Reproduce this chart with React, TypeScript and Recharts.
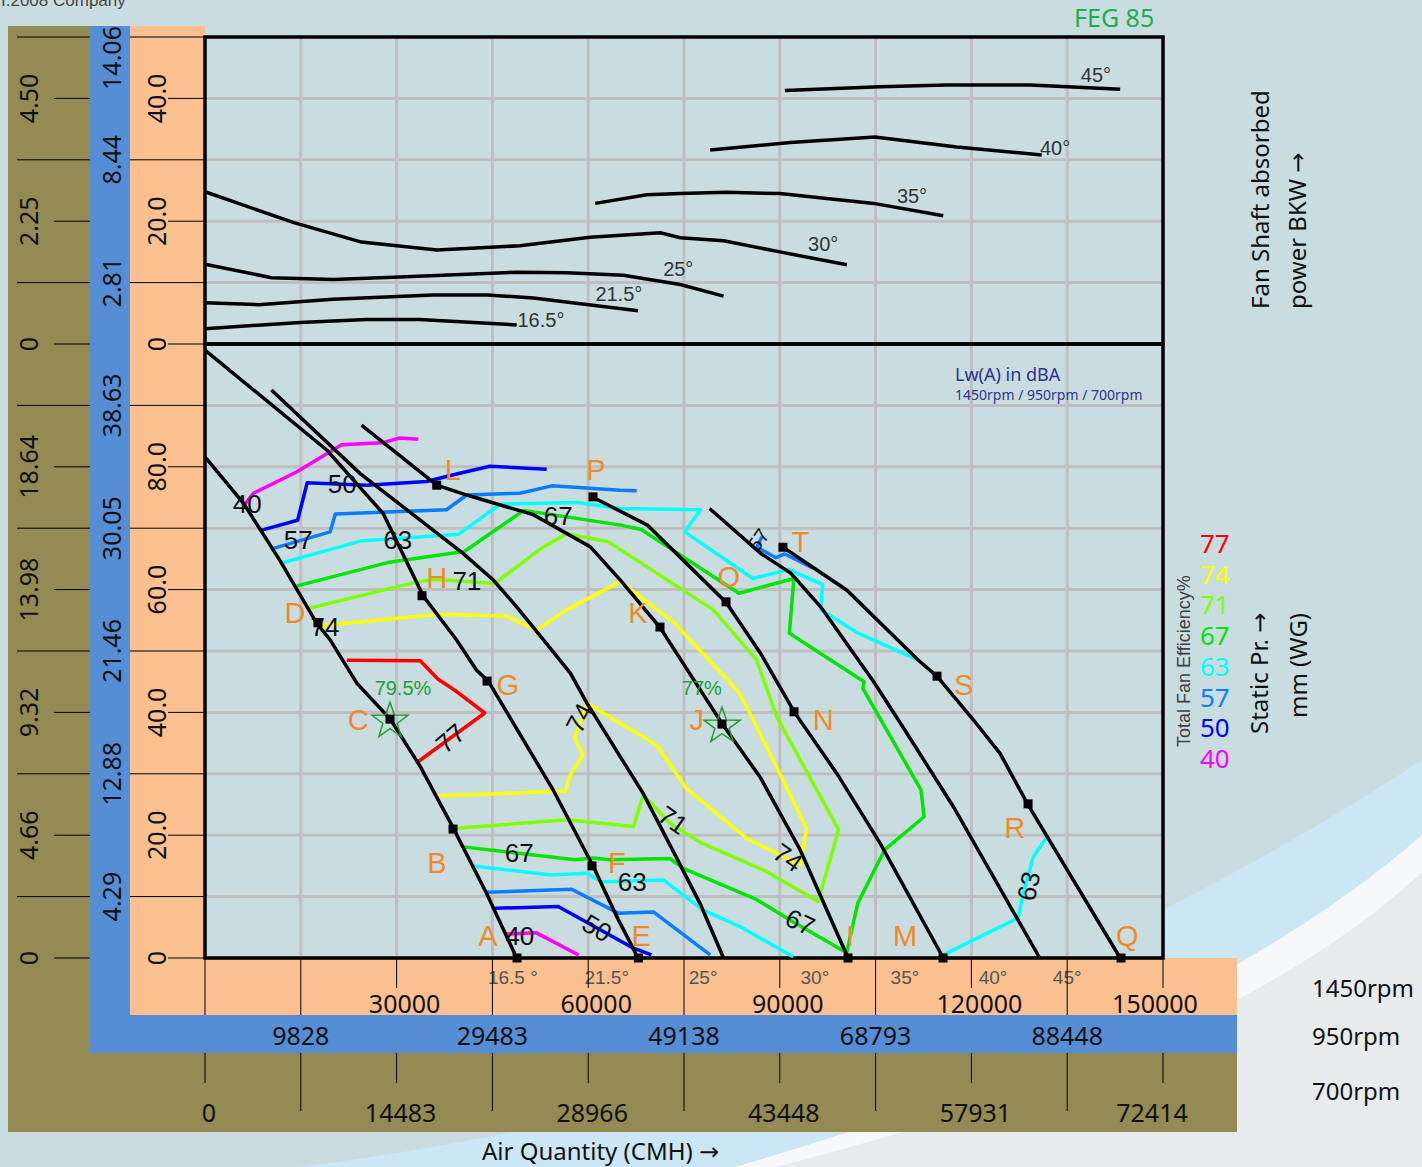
import React from "react";
import {
  ComposedChart,
  Line,
  Scatter,
  XAxis,
  YAxis,
  CartesianGrid,
  ReferenceArea,
} from "recharts";

type Row = [number, number];
type Pt = { q: number; p: number };

const CHART_W = 1422;
const CHART_H = 1167;

const SANS = "'Noto Sans', 'DejaVu Sans', sans-serif";
const ARIAL = "'Liberation Sans', Arial, sans-serif";

const BG = "#c9dde0";
const OLIVE = "#948a54";
const BLUE = "#558ed5";
const PEACH = "#fac090";
const ORANGE = "#ef8a2b";
const PCT_GREEN = "#1f9e3a";

// the power area sits on top of the pressure area: plotted value = 100 + BKW
const POWER_BASE = 100;

// ---- axes
const xTicks = [0, 15000, 30000, 45000, 60000, 75000, 90000, 105000, 120000, 135000, 150000];
const peachXLabels = ["", "", "30000", "", "60000", "", "90000", "", "120000", "", "150000"];
const blueXLabels = ["", "9828", "", "29483", "", "49138", "", "68793", "", "88448", ""];
const oliveXLabels = ["0", "", "14483", "", "28966", "", "43448", "", "57931", "", "72414"];

const angleTickQ = [48200, 62900, 78000, 95500, 109600, 123400, 135000];
const angleTickLabels = ["16.5 °", "21.5°", "25°", "30°", "35°", "40°", "45°"];

const yTicks = [0, 10, 20, 30, 40, 50, 60, 70, 80, 90, 100, 110, 120, 130, 140, 150];
const peachYLabels = ["0", "", "20.0", "", "40.0", "", "60.0", "", "80.0", "", "0", "", "20.0", "", "40.0", ""];
const blueYLabels = ["", "4.29", "", "12.88", "", "21.46", "", "30.05", "", "38.63", "", "2.81", "", "8.44", "", "14.06"];
const oliveYLabels = ["0", "", "4.66", "", "9.32", "", "13.98", "", "18.64", "", "0", "", "2.25", "", "4.50", ""];

// ---- fan shaft power (BKW) per blade angle
const power165: Row[] = [[0, 2.5], [14900, 3.5], [25300, 4.0], [33600, 4.0], [48800, 3.1]];
const power215: Row[] = [[0, 6.7], [8400, 6.4], [20000, 7.3], [35700, 8.0], [44200, 8.0], [51400, 7.5], [67800, 5.4]];
const power25: Row[] = [[0, 13.0], [10400, 10.8], [20100, 10.5], [30500, 10.9], [48800, 11.7], [56600, 11.6], [65500, 11.2], [74400, 9.7], [81200, 7.8]];
const power30: Row[] = [[0, 24.8], [13800, 19.8], [24500, 16.6], [36300, 15.3], [49300, 16.0], [60300, 17.4], [71300, 18.1], [74400, 17.3], [81200, 16.8], [90000, 15.0], [100500, 12.9]];
const power35: Row[] = [[61100, 22.9], [69200, 24.3], [74400, 24.5], [81700, 24.7], [90000, 24.5], [104700, 22.9], [115600, 20.9]];
const power40: Row[] = [[79100, 31.6], [91600, 32.8], [104900, 33.7], [117700, 32.1], [131000, 30.8]];
const power45: Row[] = [[90800, 41.3], [105700, 41.9], [116100, 42.2], [129200, 42.2], [143300, 41.5]];

const powerLabels = [
  { text: "16.5°", q: 52600, k: 3.9 },
  { text: "21.5°", q: 64800, k: 8.1 },
  { text: "25°", q: 74100, k: 12.2 },
  { text: "30°", q: 96800, k: 16.3 },
  { text: "35°", q: 110700, k: 24.1 },
  { text: "40°", q: 133100, k: 31.9 },
  { text: "45°", q: 139500, k: 43.8 },
];

// ---- static pressure (mm WG) per blade angle
const pressure165: Row[] = [[0, 81.6], [6000, 74.1], [11700, 64.8], [17500, 54.5], [19600, 51.8], [23800, 44.7], [29000, 38.9], [33700, 31.2], [38900, 21.1], [44100, 10.5], [48800, 0]];
const pressure215: Row[] = [[0, 99], [19100, 82.7], [27900, 72.4], [34200, 58.9], [39400, 51.8], [42500, 46.9], [44400, 45.0], [54500, 27.4], [60800, 14.9], [64500, 6.7], [67800, 0]];
const pressure25: Row[] = [[10400, 92.5], [24300, 78.9], [40400, 65.9], [45100, 61.6], [48800, 57.2], [53000, 51.8], [57200, 46.4], [59800, 41.5], [68600, 26.8], [73300, 17.4], [77500, 8.9], [81200, 0]];
const pressure30: Row[] = [[24500, 86.8], [36300, 77.0], [41000, 75.4], [51400, 72.2], [60300, 67.0], [65000, 61.6], [71200, 53.9], [81000, 38.1], [86900, 29.5], [93200, 17.6], [100700, 0]];
const pressure35: Row[] = [[60800, 75.0], [69300, 70.5], [81600, 57.9], [87000, 49.6], [92300, 40.0], [98900, 30.1], [105700, 18.7], [115600, 0]];
const pressure40: Row[] = [[79000, 73.2], [87000, 65.9], [91700, 62.7], [96400, 57.2], [104700, 45.0], [109900, 36.6], [117200, 24.6], [130700, 0]];
const pressure45: Row[] = [[90500, 66.9], [100500, 59.9], [111700, 48.5], [114600, 45.9], [120300, 38.8], [124500, 33.3], [128900, 24.9], [143300, 0]];

// ---- total fan efficiency contours (%)
const eff40a: Row[] = [[6000, 73.6], [7600, 75.7], [14400, 79.2], [21400, 83.6], [27700, 83.9], [30500, 84.7], [33400, 84.5]];
const eff40b: Row[] = [[47200, 3.9], [51900, 4.1], [58500, 0.5]];
const eff50a: Row[] = [[8600, 69.6], [14500, 71.3], [16000, 77.4], [25300, 77.0], [34700, 77.6], [38900, 78.7], [44600, 80.1], [53500, 79.6]];
const eff50b: Row[] = [[45400, 8.1], [55300, 8.4], [67100, 1.6], [69900, 0.5]];
const eff57a: Row[] = [[10300, 66.6], [19600, 69.4], [20400, 72.3], [37800, 73.0], [41000, 75.4], [49300, 75.7], [54300, 76.9], [65000, 76.2], [67600, 76.1]];
const eff57b: Row[] = [[87200, 68.6], [86400, 66.9], [89400, 65.2], [90800, 65.8], [95200, 63.5]];
const eff57c: Row[] = [[44100, 10.7], [57400, 11.2], [64700, 7.3], [70200, 7.5], [79100, 0.5]];
const eff63a: Row[] = [[11900, 64.3], [24300, 67.9], [39700, 69.0], [46200, 73.9], [58200, 74.2], [65000, 73.2], [77600, 73.0], [75100, 69.4], [85800, 61.8], [91400, 63.3], [96700, 60.8], [96400, 56.7], [102300, 52.9], [111700, 48.5]];
const eff63b: Row[] = [[42000, 15.0], [54300, 13.5], [59800, 13.8], [62100, 12.4], [71800, 12.7], [78000, 7.8], [83800, 5.1], [92100, 0.2]];
const eff63c: Row[] = [[115600, 0.5], [127300, 6.5], [128100, 10.5], [129700, 16.5], [132000, 20.0]];
const eff67a: Row[] = [[14400, 60.6], [28600, 64.4], [40600, 66.2], [49900, 72.9], [65100, 70.5], [68300, 69.8], [83600, 59.4], [92200, 61.8], [91500, 52.9], [103200, 45.0], [103000, 43.9], [112100, 27.4], [112600, 23.0], [106400, 17.6], [102200, 8.9], [100400, 0.5]];
const eff67b: Row[] = [[40400, 18.1], [57900, 16.0], [60800, 16.3], [63400, 16.0], [72800, 16.2], [74900, 14.6], [86400, 9.5], [91600, 6.2], [100200, 1.0]];
const eff71: Row[] = [[16400, 57.0], [32600, 61.1], [35700, 61.7], [45400, 61.0], [52500, 66.6], [56600, 69.1], [63100, 67.8], [67600, 64.8], [79600, 56.7], [86400, 48.5], [89500, 39.3], [99200, 20.9], [96000, 9.2], [87900, 14.1], [77800, 18.7], [72800, 21.9], [68600, 26.6], [67100, 21.4], [56600, 22.5], [38900, 21.1]];
const eff74: Row[] = [[18000, 54.1], [36500, 56.0], [47200, 55.7], [51900, 53.4], [56600, 56.7], [65000, 61.3], [73300, 54.8], [83500, 43.4], [85600, 39.3], [94200, 21.1], [93200, 15.2], [84800, 19.5], [75400, 27.6], [70700, 34.7], [59800, 41.5], [57900, 35.8], [59200, 33.1], [57200, 29.8], [56400, 27.1], [54500, 27.1], [36300, 26.4]];
const eff77: Row[] = [[22200, 48.5], [33700, 48.4], [36500, 45.4], [39400, 43.4], [43800, 39.9], [33400, 32.0]];

const effLevels = [77, 74, 71, 67, 63, 57, 50, 40];
const effColors: Record<number, string> = {
  77: "#ff0000",
  74: "#ffff00",
  71: "#80ff00",
  67: "#00e600",
  63: "#00ffff",
  57: "#0a7cff",
  50: "#0000ff",
  40: "#ff00ff",
};

// ---- duty points and annotations
const dutyPoints = [
  { id: "A", q: 48850, p: 0 }, { id: "B", q: 38830, p: 21.0 }, { id: "C", q: 28970, p: 38.9 }, { id: "D", q: 17690, p: 54.6 },
  { id: "E", q: 67850, p: 0 }, { id: "F", q: 60600, p: 15.0 }, { id: "G", q: 44160, p: 45.1 }, { id: "H", q: 33980, p: 59.0 },
  { id: "I", q: 100680, p: 0 }, { id: "J", q: 80950, p: 38.1 }, { id: "K", q: 71240, p: 53.9 }, { id: "L", q: 36280, p: 77.0 },
  { id: "M", q: 115560, p: 0 }, { id: "N", q: 92230, p: 40.1 }, { id: "O", q: 81580, p: 58.0 }, { id: "P", q: 60750, p: 75.1 },
  { id: "Q", q: 143430, p: 0 }, { id: "R", q: 128870, p: 25.1 }, { id: "S", q: 114620, p: 45.9 }, { id: "T", q: 90500, p: 66.9 },
];

const pointLetters = [
  { text: "A", q: 44300, p: 3.6 }, { text: "B", q: 36300, p: 15.5 }, { text: "C", q: 24000, p: 38.8 }, { text: "D", q: 14100, p: 56.2 },
  { text: "E", q: 68300, p: 3.6 }, { text: "F", q: 64500, p: 15.5 }, { text: "G", q: 47400, p: 44.5 }, { text: "H", q: 36300, p: 61.9 },
  { text: "I", q: 101000, p: 3.6 }, { text: "J", q: 77000, p: 38.8 }, { text: "K", q: 67800, p: 56.2 }, { text: "L", q: 38800, p: 79.5 },
  { text: "M", q: 109600, p: 3.6 }, { text: "N", q: 96800, p: 38.8 }, { text: "O", q: 82000, p: 62.2 }, { text: "P", q: 61200, p: 79.5 },
  { text: "Q", q: 144400, p: 3.6 }, { text: "R", q: 126800, p: 21.3 }, { text: "S", q: 118800, p: 44.6 }, { text: "T", q: 93200, p: 67.9 },
];

const bestPoints = [
  { text: "79.5%", q: 28970, p: 38.9, lq: 31000, lp: 44.0 },
  { text: "77%", q: 80950, p: 38.1, lq: 77800, lp: 44.0 },
];

const curveLabels = [
  { id: "40a", text: "40", q: 6600, p: 74.0 },
  { id: "50a", text: "50", q: 21500, p: 77.2 },
  { id: "57a", text: "57", q: 14600, p: 68.1 },
  { id: "63a", text: "63", q: 30200, p: 68.1 },
  { id: "67a", text: "67", q: 55300, p: 72.0 },
  { id: "71a", text: "71", q: 41000, p: 61.4 },
  { id: "74a", text: "74", q: 18800, p: 53.9 },
  { id: "77", text: "77", q: 38400, p: 35.8 },
  { id: "74b", text: "74", q: 58600, p: 39.1 },
  { id: "71b", text: "71", q: 73300, p: 22.5 },
  { id: "74c", text: "74", q: 91300, p: 16.4 },
  { id: "67c", text: "67", q: 93200, p: 5.9 },
  { id: "67b", text: "67", q: 49200, p: 17.1 },
  { id: "63b", text: "63", q: 66900, p: 12.5 },
  { id: "50b", text: "50", q: 61400, p: 4.9 },
  { id: "40b", text: "40", q: 49300, p: 3.7 },
  { id: "63c", text: "63", q: 128900, p: 11.7 },
  { id: "57b", text: "57", q: 86600, p: 68.1 },
];
const labelTilt: Record<string, number> = { "77": -40, "74b": -62, "71b": 35, "74c": 35, "67c": 25, "50b": 30, "63c": -78, "57b": -55 };

const toPts = (rows: Row[]): Pt[] => rows.map(([q, p]) => ({ q, p }));
const toPowerPts = (rows: Row[]): Pt[] => rows.map(([q, k]) => ({ q, p: k + POWER_BASE }));

const powerCurves = [power165, power215, power25, power30, power35, power40, power45];
const pressureCurves = [pressure165, pressure215, pressure25, pressure30, pressure35, pressure40, pressure45];
const effCurves = [
  { level: 40, rows: eff40a }, { level: 40, rows: eff40b },
  { level: 50, rows: eff50a }, { level: 50, rows: eff50b },
  { level: 57, rows: eff57a }, { level: 57, rows: eff57b }, { level: 57, rows: eff57c },
  { level: 63, rows: eff63a }, { level: 63, rows: eff63b }, { level: 63, rows: eff63c },
  { level: 67, rows: eff67a }, { level: 67, rows: eff67b },
  { level: 71, rows: eff71 },
  { level: 74, rows: eff74 },
  { level: 77, rows: eff77 },
];

// ---- ticks
function RotLabel({ x, y, text }: { x: number; y: number; text: string }) {
  return (
    <text x={x} y={y} dy="0.35em" textAnchor="middle" fontSize={25} fontFamily={SANS} fill="#111" transform={`rotate(-90 ${x} ${y})`}>
      {text}
    </text>
  );
}

function PeachYTick({ x, y, payload }: any) {
  const label = peachYLabels[yTicks.indexOf(payload.value)];
  return (
    <g>
      <line x1={label ? x - 37 : x - 75} x2={x} y1={y} y2={y} stroke="#000" strokeWidth={1} />
      {label && <RotLabel x={x - 48} y={y} text={label} />}
    </g>
  );
}

function BlueYTick({ x, y, payload }: any) {
  const label = blueYLabels[yTicks.indexOf(payload.value)];
  if (!label) return <g />;
  return <RotLabel x={x - 18} y={Math.max(y, 58)} text={label} />;
}

function OliveYTick({ x, y, payload }: any) {
  const label = oliveYLabels[yTicks.indexOf(payload.value)];
  return (
    <g>
      <line x1={label ? x - 36 : x - 73} x2={x} y1={y} y2={y} stroke="#000" strokeWidth={1} />
      {label && <RotLabel x={x - 61} y={y} text={label} />}
    </g>
  );
}

// the last bottom label is pulled inside the band, as in the original sheet
const lastShift = (i: number, normal: number, last: number) => (i === xTicks.length - 1 ? last : normal);

function PeachXTick({ x, y, payload }: any) {
  const i = xTicks.indexOf(payload.value);
  const label = peachXLabels[i];
  return (
    <g>
      <line x1={x} x2={x} y1={y} y2={label ? y + 29 : y + 56} stroke="#000" strokeWidth={1} />
      {label && (
        <text x={x + lastShift(i, 8, -8)} y={y + 54} textAnchor="middle" fontSize={25} fontFamily={SANS} fill="#111">
          {label}
        </text>
      )}
    </g>
  );
}

function BlueXTick({ x, y, payload }: any) {
  const label = blueXLabels[xTicks.indexOf(payload.value)];
  if (!label) return <g />;
  return (
    <text x={x} y={y + 30} textAnchor="middle" fontSize={25} fontFamily={SANS} fill="#111">
      {label}
    </text>
  );
}

function OliveXTick({ x, y, payload }: any) {
  const i = xTicks.indexOf(payload.value);
  const label = oliveXLabels[i];
  return (
    <g>
      <line x1={x} x2={x} y1={y} y2={label ? y + 30 : y + 58} stroke="#000" strokeWidth={1} />
      {label && (
        <text x={x + lastShift(i, 4, -11)} y={y + 69} textAnchor="middle" fontSize={25} fontFamily={SANS} fill="#111">
          {label}
        </text>
      )}
    </g>
  );
}

function AngleTick({ x, y, payload }: any) {
  const label = angleTickLabels[angleTickQ.indexOf(payload.value)];
  return (
    <text x={x} y={y + 26} textAnchor="middle" fontSize={19} fontFamily={ARIAL} fill="#555">
      {label}
    </text>
  );
}

// ---- scatter shapes
function SquareMark({ cx, cy }: any) {
  return <rect x={cx - 4.5} y={cy - 4.5} width={9} height={9} fill="#000" />;
}

function StarMark({ cx, cy }: any) {
  const pts: string[] = [];
  for (let i = 0; i < 10; i++) {
    const r = i % 2 === 0 ? 19 : 7.5;
    const a = -Math.PI / 2 + (i * Math.PI) / 5;
    pts.push(`${cx + r * Math.cos(a)},${cy + 2 + r * Math.sin(a)}`);
  }
  return <polygon points={pts.join(" ")} fill="none" stroke={PCT_GREEN} strokeWidth={1.5} />;
}

function PctText({ cx, cy, payload }: any) {
  return (
    <text x={cx} y={cy} dy="0.35em" textAnchor="middle" fontSize={20} fontFamily={ARIAL} fill={PCT_GREEN}>
      {payload.text}
    </text>
  );
}

function LetterText({ cx, cy, payload }: any) {
  return (
    <text x={cx} y={cy} dy="0.36em" textAnchor="middle" fontSize={29} fontFamily={ARIAL} fill={ORANGE}>
      {payload.text}
    </text>
  );
}

function CurveText({ cx, cy, payload }: any) {
  const a = labelTilt[payload.id] ?? 0;
  const small = payload.id === "57b";
  return (
    <text
      x={cx}
      y={cy}
      dy="0.36em"
      textAnchor="middle"
      fontSize={small ? 20 : 26}
      fontFamily={ARIAL}
      fill="#111"
      transform={`rotate(${a} ${cx} ${cy})`}
    >
      {payload.text}
    </text>
  );
}

function PowerText({ cx, cy, payload }: any) {
  return (
    <text x={cx} y={cy} dy="0.36em" textAnchor="middle" fontSize={20} fontFamily={ARIAL} fill="#333">
      {payload.text}
    </text>
  );
}

function Backdrop() {
  return (
    <svg width={CHART_W} height={CHART_H} style={{ position: "absolute", left: 0, top: 0 }}>
      <rect width={CHART_W} height={CHART_H} fill={BG} />
      <path d="M 300 1167 C 620 1125 1010 1030 1422 760 L 1422 1167 Z" fill="#cbe6f4" />
      <path d="M 735 1167 C 1000 1090 1250 985 1422 835 L 1422 1167 Z" fill="#f6f8f9" />
      <path d="M 775 1167 C 1040 1100 1280 1005 1422 872 L 1422 1167 Z" fill="#e8ebec" />
      <rect x={8} y={26} width={82} height={1106} fill={OLIVE} />
      <rect x={8} y={1053} width={1229} height={79} fill={OLIVE} />
      <rect x={90} y={26} width={40} height={1027} fill={BLUE} />
      <rect x={90} y={1015} width={1147} height={38} fill={BLUE} />
      <rect x={130} y={26} width={75} height={989} fill={PEACH} />
      <rect x={130} y={958} width={1107} height={57} fill={PEACH} />
    </svg>
  );
}

function Captions() {
  return (
    <svg width={CHART_W} height={CHART_H} style={{ position: "absolute", left: 0, top: 0, pointerEvents: "none" }}>
      <text x={1} y={6} fontSize={17} fontFamily={ARIAL} fill="#444">I.2008 Company</text>
      <text x={1074} y={27} fontSize={25} fontFamily={SANS} fill="#1dae50">FEG 85</text>
      <text x={955} y={381} fontSize={18} fontFamily={SANS} fill="#2e3192">Lw(A) in dBA</text>
      <text x={955} y={400} fontSize={14} fontFamily={SANS} fill="#2e3192">1450rpm / 950rpm / 700rpm</text>
      <text transform="translate(1269 309) rotate(-90)" fontSize={24} fontFamily={SANS} fill="#111">Fan Shaft absorbed</text>
      <text transform="translate(1306 309) rotate(-90)" fontSize={24} fontFamily={SANS} fill="#111">power BKW →</text>
      <text transform="translate(1190 747) rotate(-90)" fontSize={18} fontFamily={ARIAL} fill="#404040">Total Fan Efficiency%</text>
      {effLevels.map((lv, i) => (
        <text key={lv} x={1200} y={553 + i * 30.7} fontSize={26} fontFamily={SANS} fill={effColors[lv]}>
          {lv}
        </text>
      ))}
      <text transform="translate(1268 734) rotate(-90)" fontSize={24} fontFamily={SANS} fill="#111">Static Pr. →</text>
      <text transform="translate(1307 718) rotate(-90)" fontSize={24} fontFamily={SANS} fill="#111">mm (WG)</text>
      <text x={1312} y={997} fontSize={24} fontFamily={SANS} fill="#111">1450rpm</text>
      <text x={1312} y={1045} fontSize={24} fontFamily={SANS} fill="#111">950rpm</text>
      <text x={1312} y={1100} fontSize={24} fontFamily={SANS} fill="#111">700rpm</text>
      <text x={482} y={1160} fontSize={24} fontFamily={SANS} fill="#111">Air Quantity (CMH) →</text>
    </svg>
  );
}

export default function App() {
  const axisCommon = { type: "number" as const, axisLine: false, tickLine: false, tickSize: 0, tickMargin: 0, interval: 0 as const };
  // axes that carry no series: a fixed numeric domain is used as is
  const scaleOnly = { ...axisCommon, allowDataOverflow: true };
  return (
    <div style={{ position: "absolute", left: 0, top: 0, width: CHART_W, height: CHART_H, overflow: "hidden" }}>
      <Backdrop />
      <div style={{ position: "absolute", left: 0, top: 0 }}>
        <ComposedChart width={CHART_W} height={CHART_H} margin={{ top: 37, right: 259, bottom: 35, left: 8 }}>
          <XAxis xAxisId="x0angle" {...scaleOnly} dataKey="q" domain={[0, 150000]} ticks={angleTickQ} height={1} tick={(p: any) => <AngleTick {...p} />} />
          <XAxis xAxisId="x1cmh" {...axisCommon} dataKey="q" domain={[0, 150000]} ticks={xTicks} height={56} tick={(p: any) => <PeachXTick {...p} />} />
          <XAxis xAxisId="x2rpm950" {...scaleOnly} dataKey="q" domain={[0, 150000]} ticks={xTicks} height={38} tick={(p: any) => <BlueXTick {...p} />} />
          <XAxis xAxisId="x3rpm700" {...scaleOnly} dataKey="q" domain={[0, 150000]} ticks={xTicks} height={79} tick={(p: any) => <OliveXTick {...p} />} />
          <YAxis yAxisId="y1mm" {...axisCommon} domain={[0, 150]} ticks={yTicks} width={75} tick={(p: any) => <PeachYTick {...p} />} />
          <YAxis yAxisId="y2blue" {...scaleOnly} domain={[0, 150]} ticks={yTicks} width={40} tick={(p: any) => <BlueYTick {...p} />} />
          <YAxis yAxisId="y3olive" {...scaleOnly} domain={[0, 150]} ticks={yTicks} width={82} tick={(p: any) => <OliveYTick {...p} />} />

          <CartesianGrid xAxisId="x1cmh" yAxisId="y1mm" stroke="#bfbfbf" strokeWidth={3} fill={BG} />

          {effCurves.map((c, i) => (
            <Line
              key={`eff-${i}`}
              xAxisId="x1cmh"
              yAxisId="y1mm"
              data={toPts(c.rows)}
              dataKey="p"
              stroke={effColors[c.level]}
              strokeWidth={3.5}
              dot={false}
              activeDot={false}
              isAnimationActive={false}
              strokeLinejoin="round"
            />
          ))}
          {pressureCurves.map((rows, i) => (
            <Line
              key={`pr-${i}`}
              xAxisId="x1cmh"
              yAxisId="y1mm"
              data={toPts(rows)}
              dataKey="p"
              stroke="#000"
              strokeWidth={3.5}
              dot={false}
              activeDot={false}
              isAnimationActive={false}
            />
          ))}
          {powerCurves.map((rows, i) => (
            <Line
              key={`pw-${i}`}
              xAxisId="x1cmh"
              yAxisId="y1mm"
              data={toPowerPts(rows)}
              dataKey="p"
              stroke="#000"
              strokeWidth={3.5}
              dot={false}
              activeDot={false}
              isAnimationActive={false}
            />
          ))}

          <ReferenceArea xAxisId="x1cmh" yAxisId="y1mm" x1={0} x2={150000} y1={0} y2={POWER_BASE} fill="none" stroke="#000" strokeWidth={3.5} ifOverflow="visible" />
          <ReferenceArea xAxisId="x1cmh" yAxisId="y1mm" x1={0} x2={150000} y1={POWER_BASE} y2={150} fill="none" stroke="#000" strokeWidth={3.5} ifOverflow="visible" />

          <Scatter xAxisId="x1cmh" yAxisId="y1mm" data={bestPoints} dataKey="p" shape={(p: any) => <StarMark {...p} />} isAnimationActive={false} />
          <Scatter xAxisId="x1cmh" yAxisId="y1mm" data={dutyPoints} dataKey="p" shape={(p: any) => <SquareMark {...p} />} isAnimationActive={false} />
          <Scatter
            xAxisId="x1cmh"
            yAxisId="y1mm"
            data={bestPoints.map((b) => ({ q: b.lq, p: b.lp, text: b.text }))}
            dataKey="p"
            shape={(p: any) => <PctText {...p} />}
            isAnimationActive={false}
          />
          <Scatter xAxisId="x1cmh" yAxisId="y1mm" data={pointLetters} dataKey="p" shape={(p: any) => <LetterText {...p} />} isAnimationActive={false} />
          <Scatter xAxisId="x1cmh" yAxisId="y1mm" data={curveLabels} dataKey="p" shape={(p: any) => <CurveText {...p} />} isAnimationActive={false} />
          <Scatter
            xAxisId="x1cmh"
            yAxisId="y1mm"
            data={powerLabels.map((l) => ({ q: l.q, p: l.k + POWER_BASE, text: l.text }))}
            dataKey="p"
            shape={(p: any) => <PowerText {...p} />}
            isAnimationActive={false}
          />
        </ComposedChart>
      </div>
      <Captions />
    </div>
  );
}
